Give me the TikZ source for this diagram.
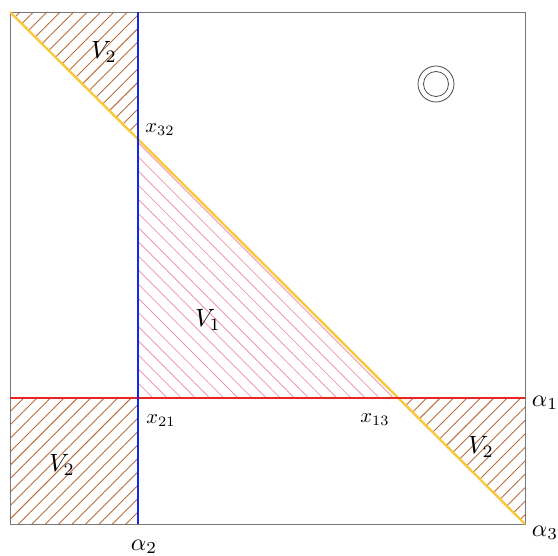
\documentclass[tikz,border=0pt]{standalone}
\usepackage{graphicx}
\usetikzlibrary{patterns.meta}
\definecolor{bordergray}{RGB}{120,120,120}
\definecolor{lineblue}{RGB}{20,40,235}
\definecolor{linered}{RGB}{235,35,35}
\definecolor{lineyellow}{RGB}{250,200,60}
\definecolor{hatchorange}{RGB}{185,110,60}
\definecolor{hatchpink}{RGB}{240,150,170}
\newcommand{\BigLbl}[1]{\scalebox{2.5}{$#1$}}
\newcommand{\SmallLbl}[1]{\scalebox{2.05}{$#1$}}
\newcommand{\AxLbl}[1]{\scalebox{2.4}{$#1$}}
\tikzset{
  vtwo/.style={pattern={Lines[angle=45,distance=9.5pt,line width=0.9pt]},pattern color=hatchorange},
  vone/.style={pattern={Lines[angle=-45,distance=10pt,line width=0.8pt]},pattern color=hatchpink},
  frame/.style={draw=bordergray,line width=0.8pt},
  lbl/.style={inner sep=0pt},
}
\begin{document}
\begin{tikzpicture}[x=1pt,y=-1pt]
\useasboundingbox (0,0) rectangle (558,556);
\coordinate (tl) at (10,12);
\coordinate (tr) at (525,12);
\coordinate (bl) at (10,524);
\coordinate (br) at (525,524);
\coordinate (bt) at (138,12);
\coordinate (bb) at (138,524);
\coordinate (rl) at (10,398);
\coordinate (rr) at (525,398);
\coordinate (p32) at (138,139.3);
\coordinate (p21) at (138,398);
\coordinate (p13) at (397,398);
% hatched regions
\fill[vtwo] (tl) -- (bt) -- (p32) -- cycle;
\fill[vone] (p32) -- (p21) -- (p13) -- cycle;
\fill[vtwo] (rl) -- (p21) -- (bb) -- (bl) -- cycle;
\fill[vtwo] (p13) -- (rr) -- (br) -- cycle;
% frame
\draw[frame] (tl) rectangle (br);
% lines
\draw[lineyellow,line width=2.4pt] (tl) -- (br);
\draw[linered,line width=2.4pt] (rl) -- (rr);
\draw[lineblue,line width=2.4pt] (bt) -- (bb);
% symbol
\draw[black!70,line width=0.8pt] (436,84) circle (18);
\draw[black!70,line width=0.8pt] (436,84) circle (12.5);
% labels
\node[lbl] (v2a) at (104,52) {\BigLbl{V_2}};
\node[lbl] (v1) at (208,320) {\BigLbl{V_1}};
\node[lbl] (v2b) at (62,465) {\BigLbl{V_2}};
\node[lbl] (v2c) at (481,447) {\BigLbl{V_2}};
\node[lbl] (x32) at (160,130) {\SmallLbl{x_{32}}};
\node[lbl] (x21) at (161,421) {\SmallLbl{x_{21}}};
\node[lbl] (x13) at (375,420) {\SmallLbl{x_{13}}};
\node[lbl] (a1) at (545,403) {\AxLbl{\alpha_1}};
\node[lbl] (a3) at (545,533) {\AxLbl{\alpha_3}};
\node[lbl] (a2) at (144,547) {\AxLbl{\alpha_2}};
\end{tikzpicture}
\end{document}
